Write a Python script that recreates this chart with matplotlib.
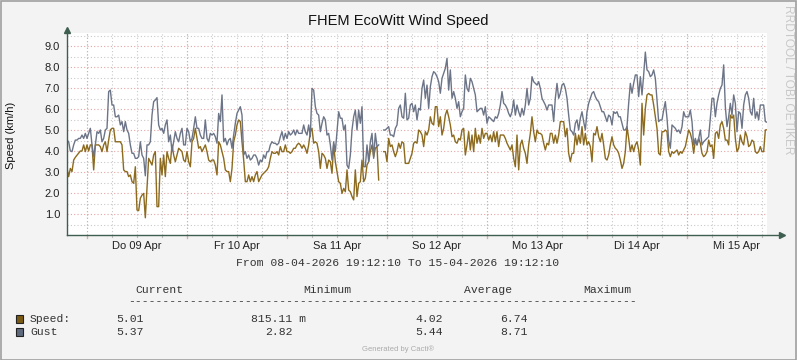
import matplotlib
matplotlib.use("Agg")
import matplotlib.pyplot as plt
import numpy as np
from matplotlib.patches import Rectangle

nan = float("nan")

# ---------------- data ----------------
# samples every 24 minutes from 08-04-2026 19:12:10 (hour 0) to 15-04-2026 19:12:10 (hour 168)
step_hours = 0.4

speed = [
    # 08/09 Apr
    3.17, 2.78, 3.17, 3.02, 3.57, 3.7, 3.8, 3.9, 4.0, 4.0, 4.29, 3.97, 4.29, 4.0, 4.29, 4.29, 3.1, 4.29,
    4.29, 4.29, 4.21, 3.97, 4.29, 4.44, 3.97, 4.52, 5.0, 5.08, 5.08, 4.44, 4.44, 4.44, 4.44, 4.29, 3.1,
    3.02, 3.02, 2.78, 2.86, 2.54, 2.46, 3.25, 1.19, 1.16, 1.75, 1.9, 1.98, 0.82, 2.22, 3.65, 3.49, 3.33,
    3.81, 3.97, 1.35, 1.35, 3.65, 2.86, 3.81, 2.78, 3.97, 3.65, 3.41, 4.29, 3.81, 3.49, 3.81, 4.13, 4.05,
    3.97, 3.57,
    # 09/10 Apr
    3.49, 3.97, 3.49, 3.25, 4.44, 4.6, 5.08, 4.6, 4.13, 4.21, 3.97, 4.13, 4.29, 3.97, 3.57, 3.49, 3.57,
    3.57, 3.33, 2.86, 4.44, 4.29, 3.97, 3.65, 3.1, 3.02, 3.02, 2.54, 3.17, 4.44, 4.76, 5.24, 5.48, 5.4,
    4.44, 3.57, 2.54, 2.54, 2.86, 2.54, 2.78, 2.54, 2.86, 3.02, 2.54, 2.7, 2.86, 2.94, 3.02, 3.1, 3.25,
    3.65, 3.97, 3.89, 3.89, 3.97, 3.81, 4.21, 3.97, 3.97, 4.29, 3.97, 3.97, 3.89, 3.97, 4.13, 4.13, 4.29,
    4.37, 4.29,
    # 10/11 Apr
    4.13, 4.29, 4.13, 3.89, 4.29, 4.92, 5.08, 4.37, 4.44, 4.37, 3.97, 3.17, 3.89, 3.81, 3.65, 3.17, 3.57,
    3.49, 2.94, 4.29, 3.49, 3.02, 2.54, 2.46, 1.98, 2.22, 2.06, 3.1, 2.14, 2.06, 1.83, 1.67, 3.1, 1.83,
    2.46, 2.54, 3.57, 2.54, 2.7, 3.33, 3.49, 3.97, 4.29, 3.73, 4.13, 4.21, 2.62, nan, nan, 3.97, 3.97,
    3.49, 4.6, 4.21, 4.29, 3.97, 3.73, 3.97, 4.37, 4.13, 4.44, 4.37, 3.41, 3.41, 3.41, 3.65, 3.89, 4.37,
    4.44, 4.37,
    # 11/12 Apr
    5.0, 4.92, 4.76, 4.21, 4.92, 4.76, 5.0, 5.63, 5.32, 5.24, 6.11, 6.11, 5.16, 5.63, 4.76, 5.08, 5.71,
    5.95, 5.63, 5.24, 4.68, 4.76, 4.44, 4.37, 4.6, 4.52, 5.0, 5.08, 3.81, 4.29, 4.92, 4.05, 4.76, 3.97,
    5.08, 4.37, 4.76, 4.37, 5.08, 4.6, 4.84, 4.84, 4.52, 4.76, 4.44, 4.92, 4.44, 4.92, 4.21, 4.76, 4.76,
    4.76, 4.6, 4.37, 4.21, 4.05, 4.29, 3.65, 3.25, 4.76, 3.1, 4.29, 4.52, 4.13, 3.89, 3.41, 4.29, 4.84,
    5.63, 4.92,
    # 12/13 Apr
    4.44, 5.0, 4.84, 4.84, 4.76, 4.37, 4.05, 4.37, 4.29, 4.84, 4.84, 4.37, 4.76, 4.37, 4.76, 5.4, 5.4,
    5.4, 4.68, 5.08, 3.89, 3.49, 3.89, 3.89, 4.84, 4.29, 4.76, 4.37, 5.16, 4.29, 4.84, 4.29, 4.44, 4.21,
    3.49, 4.84, 4.76, 5.16, 4.68, 4.44, 4.84, 4.29, 3.65, 3.57, 3.81, 4.29, 4.68, 4.29, 4.13, 4.05, 3.89,
    3.57, 3.17, 3.41, 3.97, 5.16, 4.6, 3.97, 4.29, 3.97, 4.29, 4.44, 4.05, 3.33, 6.27, 4.76, 6.03, 6.67,
    6.74, 6.67,
    # 14/15 Apr
    6.67, 6.19, 5.63, 5.08, 3.89, 3.81, 4.92, 4.92, 5.0, 4.92, 3.97, 3.73, 3.97, 3.89, 3.97, 4.05, 3.81,
    3.97, 3.89, 4.05, 4.21, 4.6, 5.0, 4.84, 4.52, 3.89, 4.52, 4.29, 4.6, 4.37, 3.89, 3.73, 3.81, 3.97,
    4.52, 4.21, 4.29, 3.65, 4.84, 4.92, 4.6, 5.24, 5.4, 5.08, 4.52, 4.52, 4.29, 5.71, 5.56, 5.71, 4.6,
    3.97, 4.13, 4.76, 4.44, 4.29, 4.92, 4.68, 4.21, 4.29, 4.52, 4.44, 3.97, 3.89, 3.97, 4.21, 3.97, 3.97,
    5.0, 5.01,
]

gust = [
    # 08/09 Apr
    4.52, 4.44, 4.0, 3.97, 4.29, 4.52, 4.52, 4.6, 4.6, 4.76, 4.6, 4.84, 4.6, 4.84, 5.08, 4.29, 3.73, 4.29,
    4.92, 4.84, 5.0, 4.44, 4.6, 5.0, 5.08, 6.83, 6.9, 6.19, 6.19, 5.63, 5.63, 5.71, 5.24, 5.4, 4.92, 5.4,
    5.0, 4.84, 4.29, 3.89, 3.89, 3.65, 3.65, 3.73, 4.44, 3.81, 3.65, 2.82, 4.29, 4.29, 4.44, 5.71, 6.35,
    6.43, 6.54, 5.24, 5.0, 5.08, 4.84, 5.24, 5.48, 4.44, 4.76, 3.97, 4.44, 4.92, 4.6, 4.44, 4.84, 5.08,
    4.29,
    # 09/10 Apr
    4.29, 5.08, 4.92, 4.44, 4.6, 5.08, 5.63, 5.08, 5.08, 4.76, 4.6, 4.6, 5.48, 4.6, 4.44, 4.84, 4.76,
    4.84, 4.68, 4.37, 5.79, 5.4, 6.67, 4.44, 4.6, 4.29, 4.52, 4.6, 4.13, 4.76, 5.32, 5.79, 5.95, 6.11,
    5.71, 3.81, 3.97, 3.65, 3.81, 3.57, 3.65, 3.81, 3.81, 3.65, 3.33, 3.57, 3.49, 3.81, 3.65, 3.97, 3.97,
    4.29, 4.44, 4.37, 4.37, 4.29, 4.37, 4.68, 4.92, 4.52, 4.84, 4.6, 4.92, 4.76, 4.84, 5.0, 4.76, 5.0,
    4.84, 4.84,
    # 10/11 Apr
    4.84, 5.24, 4.92, 4.76, 5.24, 4.68, 6.98, 6.9, 6.11, 5.79, 5.71, 4.92, 5.32, 5.63, 5.48, 4.76, 4.84,
    4.29, 3.57, 4.44, 3.97, 4.92, 5.87, 5.56, 5.56, 5.0, 5.24, 3.33, 3.17, 3.81, 5.0, 5.63, 5.95, 5.0,
    5.95, 5.32, 6.11, 3.25, 3.25, 4.29, 3.49, 4.44, 4.84, 3.65, 4.84, 4.21, 4.29, nan, nan, 5.0, 5.0,
    5.08, 5.16, 4.76, 4.76, 4.68, 5.08, 5.24, 6.03, 6.19, 5.63, 5.56, 6.75, 5.48, 5.56, 6.19, 6.27, 5.87,
    6.19, 5.48,
    # 11/12 Apr
    6.03, 5.95, 6.98, 7.38, 6.51, 7.14, 6.03, 7.06, 7.54, 7.78, 7.7, 7.54, 7.3, 6.75, 7.46, 7.7, 7.94,
    8.41, 6.9, 7.86, 6.51, 6.83, 6.51, 6.03, 6.35, 5.63, 5.87, 6.03, 7.62, 6.98, 6.83, 7.46, 7.3, 6.98,
    6.67, 5.87, 5.95, 6.03, 6.03, 5.71, 6.11, 5.32, 5.63, 5.56, 5.48, 5.4, 5.63, 5.56, 5.79, 6.19, 6.83,
    6.27, 6.19, 6.03, 5.79, 5.63, 5.87, 6.43, 5.71, 6.19, 5.87, 5.63, 6.03, 5.71, 6.19, 6.98, 6.19, 6.51,
    7.54, 7.3,
    # 12/13 Apr
    7.22, 7.14, 7.3, 6.98, 6.51, 6.35, 6.19, 5.95, 6.19, 6.19, 6.19, 5.4, 6.51, 7.22, 6.51, 6.75, 7.14,
    7.22, 6.98, 6.51, 5.71, 5.0, 4.92, 4.76, 5.32, 5.48, 5.0, 5.56, 5.87, 5.4, 5.0, 5.87, 6.27, 6.51,
    6.75, 6.83, 6.59, 6.43, 6.35, 6.11, 5.87, 5.87, 5.63, 5.4, 5.71, 5.63, 5.24, 5.87, 5.79, 5.87, 5.63,
    5.63, 5.32, 5.0, 5.0, 5.16, 6.27, 7.22, 6.75, 7.22, 7.62, 7.62, 6.59, 7.54, 6.67, 7.62, 8.71, 7.86,
    7.78, 7.54,
    # 14/15 Apr
    7.62, 7.86, 7.46, 6.43, 5.4, 5.48, 5.48, 5.95, 6.35, 5.56, 4.52, 4.13, 5.24, 5.16, 5.08, 4.92, 5.0,
    4.84, 5.16, 5.87, 5.63, 5.63, 5.63, 5.95, 5.4, 4.29, 4.6, 4.29, 4.6, 5.0, 4.29, 4.44, 4.52, 4.6, 4.68,
    5.56, 6.51, 6.51, 5.63, 6.27, 6.67, 6.98, 7.14, 8.1, 6.11, 5.16, 5.63, 6.27, 5.71, 6.67, 6.27, 4.92,
    5.87, 5.79, 5.08, 6.19, 6.67, 6.83, 6.51, 5.87, 5.71, 6.51, 5.56, 5.87, 5.48, 6.19, 6.19, 6.19, 5.4,
    5.37,
]

day_labels = ["Do 09 Apr", "Fr 10 Apr", "Sa 11 Apr", "So 12 Apr", "Mo 13 Apr", "Di 14 Apr", "Mi 15 Apr"]
first_noon = 16.797      # hours after start (12:00 on 09 Apr)
first_midnight = 4.797   # hours after start (00:00 on 09 Apr)
y_ticks = [1, 2, 3, 4, 5, 6, 7, 8, 9]

title = "FHEM EcoWitt Wind Speed"
ylabel = "Speed (km/h)"
period = "From 08-04-2026 19:12:10 To 15-04-2026 19:12:10"
legend_headers = ["Current", "Minimum", "Average", "Maximum"]
legend_names = ["Speed:", "Gust"]
legend_values = [["5.01", "815.11 m", "4.02", "6.74"],
                 ["5.37", "2.82", "5.44", "8.71"]]

hours = np.arange(len(speed)) * step_hours

# ---------------- style ----------------
W, H = 797, 360
BG = "#F3F3F3"
C_SPEED = "#8C6A1E"
C_GUST = "#6C7487"
C_AXIS = "#3E5E50"
C_MAJ = "#E6A3A3"
C_MIN = "#C9C9C9"
SANS = ["Liberation Sans", "DejaVu Sans"]
MONO = ["Liberation Mono", "DejaVu Sans Mono"]


def fx(x):
    return x / W


def fy(y):
    return 1 - y / H


fig = plt.figure(figsize=(W / 100, H / 100), dpi=100, facecolor=BG)

x0, x1 = 67, 767
ybot, ytop = 235, 33.4
ax = fig.add_axes([fx(x0), fy(ybot), (x1 - x0) / W, (ybot - ytop) / H])
ax.set_facecolor("white")
ax.set_xlim(0, 168)
ax.set_ylim(0, 9.6)
for s in ax.spines.values():
    s.set_visible(False)

# grid
minor_x = list(np.arange(first_midnight % 6, 168, 6.0))
major_x = list(np.arange(first_midnight, 168, 24.0))
for v in minor_x:
    ax.axvline(v, color=C_MIN, lw=0.8, ls=(0, (1, 2)), zorder=0)
for v in np.arange(0.5, 9.6, 1.0):
    ax.axhline(v, color=C_MIN, lw=0.8, ls=(0, (1, 2)), zorder=0)
for v in major_x:
    ax.axvline(v, color=C_MAJ, lw=0.8, ls=(0, (1, 2)), zorder=1)
for v in y_ticks:
    ax.axhline(v, color=C_MAJ, lw=0.8, ls=(0, (1, 2)), zorder=1)

# series
ax.plot(hours, speed, color=C_SPEED, lw=1.0, zorder=3)
ax.plot(hours, gust, color=C_GUST, lw=1.0, zorder=4)

# ticks
ax.set_yticks(y_ticks)
ax.set_yticklabels([f"{v:.1f}" for v in y_ticks], fontsize=8, family=SANS, color="#222222")
ax.set_xticks([first_noon + 24 * i for i in range(len(day_labels))])
ax.set_xticklabels(day_labels, fontsize=8, family=SANS, color="#222222")
ax.tick_params(axis="both", length=0, pad=5)
ax.tick_params(axis="x", pad=4)

# small axis tick marks
for v in major_x:
    ax.plot([v, v], [-0.12, 0.0], color=C_MAJ, lw=0.9, clip_on=False, zorder=5)
for v in minor_x:
    ax.plot([v, v], [-0.08, 0.0], color="#BBBBBB", lw=0.8, clip_on=False, zorder=5)

# axis lines with arrows
ax.plot([0, 0], [0, 9.75], color=C_AXIS, lw=1.0, clip_on=False, zorder=6)
ax.plot([0, 171.5], [0, 0], color=C_AXIS, lw=1.0, clip_on=False, zorder=6)
ax.plot([0], [9.75], marker="^", color=C_AXIS, ms=4, clip_on=False, zorder=6)
ax.plot([171.5], [0], marker=">", color=C_AXIS, ms=4, clip_on=False, zorder=6)

# texts
fig.text(fx(398), fy(21), title, ha="center", va="center", fontsize=10.5, family=SANS, color="#111111")
fig.text(fx(11), fy(135), ylabel, ha="center", va="center", rotation=90, fontsize=8, family=SANS, color="#111111")
fig.text(fx(398), fy(263), period, ha="center", va="center", fontsize=8.2, family=MONO, color="#333333")
fig.text(fx(788), fy(5), "RRDTOOL / TOBI OETIKER", ha="center", va="top", rotation=270,
         fontsize=8.6, family=SANS, color="#C8C8C8")
fig.text(fx(398), fy(349), "Generated by Cacti®", ha="center", va="center", fontsize=5.5, family=SANS, color="#ABABAB")

hdr_x = [135, 303, 464, 583]
for hx, t in zip(hdr_x, legend_headers):
    fig.text(fx(hx), fy(290), t, ha="left", va="center", fontsize=8.2, family=MONO, color="#333333")
fig.text(fx(128), fy(301), "-" * 74, ha="left", va="center", fontsize=8.2, family=MONO, color="#333333")

row_y = [319, 332]
val_x = [[116, 251, 415, 500], [116, 265, 415, 500]]
sq_cols = ["#7A5A12", "#5E697E"]
for i, name in enumerate(legend_names):
    y = row_y[i]
    fig.add_artist(Rectangle((fx(16), fy(y + 4)), 7 / W, 8 / H, transform=fig.transFigure,
                             facecolor=sq_cols[i], edgecolor="#222222", lw=0.8))
    fig.text(fx(30), fy(y), name, ha="left", va="center", fontsize=8.2, family=MONO, color="#333333")
    for vx, t in zip(val_x[i], legend_values[i]):
        fig.text(fx(vx), fy(y), t, ha="left", va="center", fontsize=8.2, family=MONO, color="#333333")

# frame
fig.add_artist(Rectangle((0.5 / W, 0.5 / H), 1 - 1.5 / W, 1 - 1.5 / H, transform=fig.transFigure,
                         facecolor="none", edgecolor="#A0A0A0", lw=1.2))

fig.savefig("out.png", dpi=100, facecolor=BG)
